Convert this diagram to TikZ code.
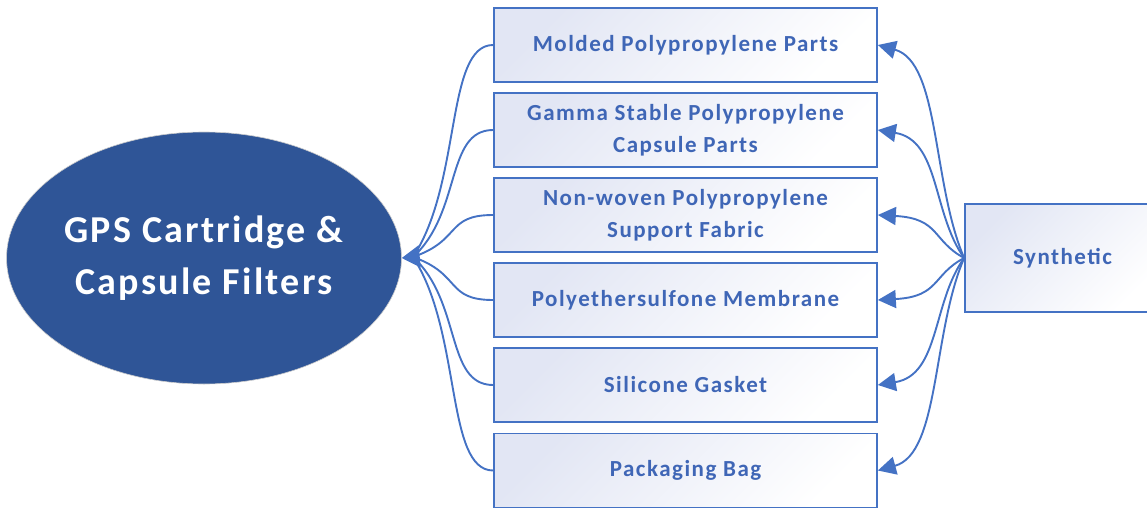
\documentclass[tikz,border=0pt]{standalone}
\usepackage{fontspec}
\setmainfont{Carlito}
\newfontfamily\boxfont[LetterSpace=6.5]{Carlito}
\newfontfamily\ellfont[LetterSpace=6]{Carlito}
\usetikzlibrary{arrows.meta,shapes.geometric,calc}
\definecolor{linkblue}{HTML}{4472C4}
\definecolor{txtblue}{HTML}{3F66B6}
\definecolor{ellblue}{HTML}{2F5597}
\definecolor{lav}{HTML}{E2E6F4}
\begin{document}
\begin{tikzpicture}[x=1pt,y=-1pt,
  itembox/.style={draw=linkblue,line width=1.7pt,minimum width=383pt,minimum height=74pt,
    top color=lav,bottom color=white,shading angle=45,
    font=\boxfont\bfseries\fontsize{23}{32}\selectfont,text=txtblue,align=center,inner sep=0pt},
  link/.style={draw=linkblue,line width=1.9pt},
  tipstyle/.style={-{Triangle[length=18pt,width=22pt]}},
  rtip/.style={-{Triangle[length=18pt,width=18pt]}}]
\useasboundingbox (0,0) rectangle (1147,508);
\node[ellipse,fill=ellblue,draw=gray!40,line width=0.6pt,minimum width=383pt,minimum height=252pt,inner sep=0pt,
  text=white,font=\ellfont\bfseries\fontsize{38}{52}\selectfont,align=center] (ell) at (204,258)
  {GPS Cartridge \&\\Capsule Filters};
\node[itembox] (b1) at (685.5,45) {Molded Polypropylene Parts};
\node[itembox] (b2) at (685.5,130) {Gamma Stable Polypropylene\\Capsule Parts};
\node[itembox] (b3) at (685.5,215) {Non-woven Polypropylene\\Support Fabric};
\node[itembox] (b4) at (685.5,300) {Polyethersulfone Membrane};
\node[itembox] (b5) at (685.5,385) {Silicone Gasket};
\node[itembox] (b6) at (685.5,470.5) {Packaging Bag};
\node[itembox,minimum width=195pt,minimum height=108pt] (syn) at (1062.5,258) {Synthetic};
\coordinate (hub) at (413,257);
\foreach \b/\k in {b1/0.35,b2/0.35,b3/0.4,b4/0.4,b5/0.35,b6/0.35}{
  \path (\b.west) ++(-48,0) coordinate (c1);
  \path let \p1=(\b.west), \p2=(hub) in coordinate (c2) at (462,{\y2+\k*(\y1-\y2)});
  \draw[link] (\b.west) .. controls (c1) and (c2) .. (hub);
  \path let \p1=(\b.east), \p2=(syn.west) in coordinate (d1) at (932,{\y2+\k*(\y1-\y2)});
  \path let \p1=(\b.east), \p2=(syn.west) in coordinate (d2) at (940,{\y1+0.08*(\y2-\y1)});
  \draw[link,rtip] (syn.west) .. controls (d1) and (d2) .. (\b.east);
}
\draw[link,tipstyle] (hub) -- (ell.east);
\end{tikzpicture}
\end{document}
